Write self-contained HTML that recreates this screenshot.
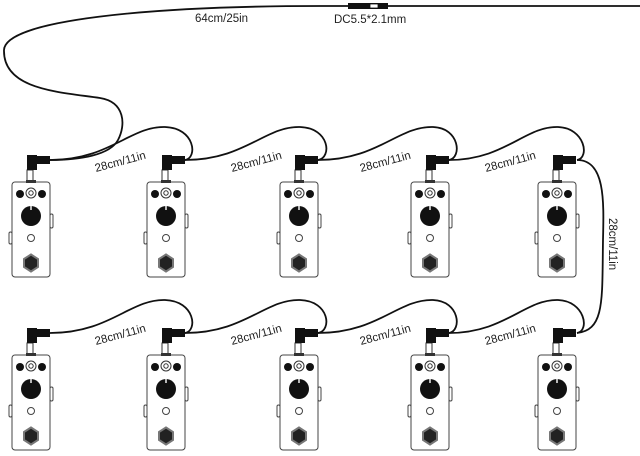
<!DOCTYPE html><html><head><style>body{margin:0;background:#fff}svg{display:block}text{font-family:"Liberation Sans",sans-serif;font-size:11.5px;fill:#222}</style></head><body>
<svg width="640" height="456" viewBox="0 0 640 456" xmlns="http://www.w3.org/2000/svg">
<defs>
<g id="p">
<rect x="15" y="-12" width="6" height="12" fill="#fff" stroke="#333" stroke-width="1"/>
<rect x="15" y="-27" width="10" height="15" fill="#111"/>
<rect x="15" y="-26" width="23" height="8" fill="#111"/>
<rect x="0" y="0" width="38" height="95" rx="3" fill="#fff" stroke="#444" stroke-width="1"/>
<rect x="-3" y="50" width="3" height="12" rx="1.5" fill="#fff" stroke="#444"/>
<rect x="38" y="32" width="3" height="14" rx="1.5" fill="#fff" stroke="#444"/>
<rect x="14" y="-2" width="10" height="3" fill="#333"/>
<circle cx="8" cy="12" r="4" fill="#111"/><circle cx="30" cy="12" r="4" fill="#111"/>
<circle cx="19" cy="11" r="5" fill="#fff" stroke="#333"/><circle cx="19" cy="11" r="2.2" fill="#fff" stroke="#333"/>
<circle cx="19" cy="34" r="10" fill="#111"/><rect x="18.3" y="24" width="1.4" height="4" fill="#fff"/>
<circle cx="19" cy="56" r="3.5" fill="#fff" stroke="#444"/>
<polygon points="12,77 19,72.5 26,77 26,85 19,89.5 12,85" fill="#222" stroke="#777" stroke-width="2"/>
</g>
</defs>
<g fill="none" stroke="#111" stroke-width="1.8">
<path d="M640 6 L320 6 C150 6 5 20 4 50 C3 90 60 92 100 98 C125 102 126 125 118 140 C110 155 80 160 50 160"/>
<path d="M50 160 C110 160 130 126 165 127 C195 128 198 158 185 160"/>
<path d="M185 160 C245 160 265 126 300 127 C330 128 332 158 318 160"/>
<path d="M318 160 C378 160 398 126 433 127 C460 128 462 158 449 160"/>
<path d="M449 160 C505 160 525 126 558 127 C585 128 590 158 577 160"/>
<path d="M577 160 C605 160 604 200 603 240 C602 300 605 330 577 333"/>
<path d="M50 333 C110 333 130 299 165 300 C195 301 198 331 185 333"/>
<path d="M185 333 C245 333 265 299 300 300 C330 301 332 331 318 333"/>
<path d="M318 333 C378 333 398 299 433 300 C460 301 462 331 449 333"/>
<path d="M449 333 C505 333 525 299 558 300 C585 301 590 331 577 333"/>
</g>
<rect x="348" y="3" width="40" height="6" fill="#111"/><rect x="370" y="4" width="8" height="4" fill="#fff" stroke="#111" stroke-width=".8"/>
<text x="195" y="22">64cm/25in</text>
<text x="334" y="23">DC5.5*2.1mm</text>
<use href="#p" x="12" y="182"/><use href="#p" x="147" y="182"/><use href="#p" x="280" y="182"/><use href="#p" x="411" y="182"/><use href="#p" x="538" y="182"/>
<use href="#p" x="12" y="355"/><use href="#p" x="147" y="355"/><use href="#p" x="280" y="355"/><use href="#p" x="411" y="355"/><use href="#p" x="538" y="355"/>
<g>
<text transform="translate(96,172) rotate(-15)">28cm/11in</text>
<text transform="translate(232,172) rotate(-15)">28cm/11in</text>
<text transform="translate(361,172) rotate(-15)">28cm/11in</text>
<text transform="translate(486,172) rotate(-15)">28cm/11in</text>
<text transform="translate(96,345) rotate(-15)">28cm/11in</text>
<text transform="translate(232,345) rotate(-15)">28cm/11in</text>
<text transform="translate(361,345) rotate(-15)">28cm/11in</text>
<text transform="translate(486,345) rotate(-15)">28cm/11in</text>
<text transform="translate(609,218) rotate(90)">28cm/11in</text>
</g>
</svg></body></html>
